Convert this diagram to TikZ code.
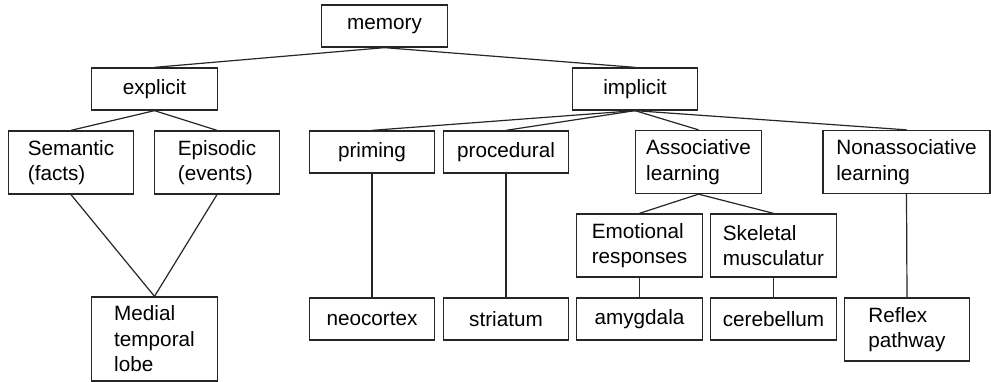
\documentclass[tikz,border=0pt]{standalone}
\usepackage{fontspec}
\setmainfont{Liberation Sans}
\begin{document}
\begin{tikzpicture}[x=1pt,y=-1pt,
    box/.style={draw=black!85,line width=1.3pt,rectangle,inner sep=0pt,
      minimum width=125.5pt,minimum height=42pt,align=left,
      font=\fontsize{20.7}{25.5}\selectfont},
    tall/.style={box,minimum height=63pt},
    link/.style={draw=black!85,line width=1.2pt}]
            \useasboundingbox (0,0) rectangle (991,382);
            \draw (384.5,26) node[box] (mem) {memory};
            \draw (154.5,89) node[box] (expl) {explicit};
            \draw (635,89) node[box] (impl) {implicit};
            \draw (71,162.5) node[tall] (sem) {Semantic\\(facts)};
            \draw (217,162.5) node[tall] (epi) {Episodic\\(events)};
            \draw (372,152) node[box] (prim) {priming};
            \draw (506,152) node[box] (proc) {procedural};
            \draw (698.5,162) node[tall] (assoc) {Associative\\learning};
            \draw (906.5,162) node[tall,minimum width=167pt] (nonassoc) {Nonassociative\\learning};
            \draw (154.5,339) node[box,minimum height=84pt] (mtl) {Medial\\temporal\\lobe};
            \draw (372,319) node[box] (neo) {neocortex};
            \draw (506,319) node[box] (stri) {striatum};
            \draw (639.5,245.5) node[tall] (emo) {Emotional\\responses};
            \draw (773.5,245.5) node[tall] (skel) {Skeletal\\musculatur};
            \draw (639.5,319) node[box] (amyg) {amygdala};
            \draw (773.5,319) node[box] (cere) {cerebellum};
            \draw (907,329.5) node[tall] (refl) {Reflex\\pathway};
            \draw[link] (mem.south) -- (expl.north);
            \draw[link] (mem.south) -- (impl.north);
            \draw[link] (expl.south) -- (sem.north);
            \draw[link] (expl.south) -- (epi.north);
            \draw[link] (impl.south) -- (prim.north);
            \draw[link] (impl.south) -- (proc.north);
            \draw[link] (impl.south) -- (assoc.north);
            \draw[link] (impl.south) -- (nonassoc.north);
            \draw[link] (sem.south) -- (mtl.north);
            \draw[link] (epi.south) -- (mtl.north);
            \draw[link] (prim.south) -- (neo.north);
            \draw[link] (proc.south) -- (stri.north);
            \draw[link] (assoc.south) -- (emo.north);
            \draw[link] (assoc.south) -- (skel.north);
            \draw[link] (emo.south) -- (amyg.north);
            \draw[link] (skel.south) -- (cere.north);
            \draw[link] (nonassoc.south) -- (refl.north);
         \end{tikzpicture}
\end{document}
